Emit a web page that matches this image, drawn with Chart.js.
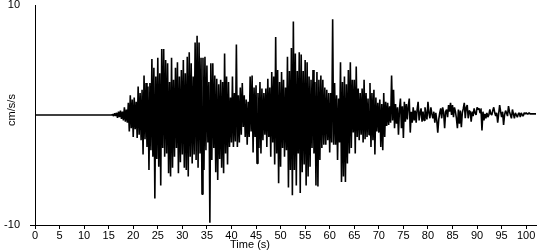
<!DOCTYPE html>
<html lang="en">
<head>
  <meta charset="UTF-8" />
  <title>Accelerogram</title>
  <script src="https://cdn.jsdelivr.net/npm/chart.js@4.4.0/dist/chart.umd.min.js"></script>
  <style>
    body { margin:0; background:#fff; }
    #wrap { width:550px; height:250px; }
  </style>
</head>
<body>
  <div id="wrap"><canvas id="accChart" width="550" height="250"></canvas></div>

  <script>
    /* ── data (cm/s/s), one sample every 0.2 s ── */
    const sampleStep = 0.2;
    const quietStart = 0;          // record is flat from 0 s until the first segment
    const segStarts  = [15, 25, 35, 45, 55, 65, 75, 85, 95];

    const acc15 = [0,0,0,0,0.05, -0.1,0.15,-0.1,0.2,-0.25, 0.3,-0.2,0.4,-0.35,0.3, -0.5,0.7,-0.6,0.5,-0.7,
                   1.1,-1.5,1.8,-1.2,1.4, -2.0,1.6,-1.3,1.2,-2.1, 2.6,-1.8,2.0,-2.3,2.3, -3.6,3.6,-2.2,2.9,-2.9,
                   2.6,-5.0,2.9,-3.2,5.1, -3.8,4.3,-7.6,3.5,-4.0];
    const acc25 = [5.2,-4.7,3.8,-6.4,6.0, -3.0,6.0,-3.8,5.0,-3.5, 4.7,-5.3,3.0,-5.6,5.2, -4.8,3.2,-3.8,4.3,-3.0,
                   4.8,-5.3,3.5,-4.3,4.1, -3.6,5.0,-4.8,3.8,-5.0, 5.3,-5.6,5.7,-3.8,4.7, -4.4,3.5,-3.6,6.6,-4.1,
                   7.2,-4.8,6.6,-3.5,5.2, -7.2,5.2,-5.0,5.3,-3.2];
    const acc35 = [4.5,-2.5,3.0,-9.8,4.7, -4.1,4.7,-3.0,3.6,-5.2, 3.3,-5.9,2.8,-4.0,3.2, -4.8,3.0,-5.3,5.6,-3.5,
                   3.5,-4.5,3.0,-2.9,1.6, -2.5,3.5,-2.9,2.0,-2.4, 6.4,-2.9,1.8,-2.5,2.5, -1.8,2.9,-1.1,1.8,-2.0,
                   1.4,-2.7,1.2,-2.0,3.5, -1.5,3.6,-3.4,2.5,-2.0];
    const acc45 = [2.7,-4.4,2.0,-3.0,3.0, -3.5,2.4,-2.3,2.0,-1.8, 2.4,-2.9,3.3,-2.0,2.5, -3.8,3.9,-2.5,3.5,-4.5,
                   7.1,-3.5,4.1,-6.2,3.0, -4.7,3.9,-3.0,3.2,-3.8, 2.5,-3.2,5.3,-6.6,4.0, -5.0,6.1,-7.3,8.5,-5.0,
                   5.6,-6.4,4.0,-3.5,5.7, -7.1,5.5,-5.2,4.0,-4.5];
    const acc55 = [5.0,-6.4,4.8,-5.6,3.5, -4.7,3.2,-3.0,4.1,-3.5, 3.0,-6.4,3.9,-6.5,3.2, -4.1,3.6,-3.0,3.2,-2.7,
                   2.5,-2.7,2.3,-2.3,2.0, -3.4,2.0,-2.5,8.7,-2.7, 2.9,-2.7,1.8,-4.1,1.5, -2.5,4.8,-6.1,3.0,-5.6,
                   3.5,-6.1,2.8,-4.4,4.1, -3.5,4.8,-3.0,3.2,-1.6];
    const acc65 = [3.2,-3.5,4.4,-2.0,2.4, -2.3,2.0,-1.8,2.4,-2.5, 3.2,-2.2,2.0,-2.0,1.5, -1.8,2.9,-2.9,2.0,-2.3,
                   2.3,-3.6,1.6,-1.5,1.1, -1.6,1.4,-2.9,1.0,-3.2, 2.0,-2.0,1.2,-1.0,1.1, -0.9,0.8,-0.7,3.6,-0.5,
                   2.3,-1.2,1.0,-0.8,0.7, -1.8,0.5,1.5,-1.2,0.8];
    const acc75 = [-2.1,1.2,-0.6,1.0,-0.4, 0.8,1.5,-1.6,0.3,-0.7, 0.7,-0.5,0.4,-0.7,0.5, 1.2,-0.5,0.2,0.6,-0.6,
                   0.3,-0.5,0.7,0.1,-0.4, 1.2,0.2,-0.3,0.7,0.1, -0.3,0.3,-0.7,0.2,-0.5, -1.6,-0.4,0.2,0.6,-0.3,
                   0.7,0.2,-1.2,0.3,0.5, -0.2,0.9,0.3,1.1,0.0];
    const acc85 = [0.9,-0.2,0.7,0.3,-0.3, -1.2,0.5,-0.8,0.4,-1.1, 0.2,0.6,1.1,-0.3,0.7, 0.9,-0.3,0.4,0.3,-0.6,
                   0.3,-0.1,0.6,0.2,0.0, 0.7,0.5,0.6,0.2,0.6, -1.4,0.3,-0.5,0.1,-0.3, 0.2,-0.2,0.0,0.5,0.1,
                   0.0,0.4,0.7,0.2,-0.1, 0.2,-0.7,0.1,0.9,0.3];
    const acc95 = [-0.2,0.3,-0.9,0.0,0.4, 0.2,-0.1,0.8,0.3,0.0, -0.3,0.5,0.1,-0.3,0.2, 0.0,-0.2,0.1,0.2,-0.2,
                   0.2,0.0,-0.1,0.2,0.1, 0.2,0.1,0.1,0.2,0.1, 0.1,0.1,0.1,0.1,0.1, 0.1];

    const segments   = [acc15, acc25, acc35, acc45, acc55, acc65, acc75, acc85, acc95];
    const xTickVals  = [0,5,10,15,20,25,30,35,40,45,50,55,60,65,70,75,80,85,90,95,100];
    const yTickVals  = [-10, 10];
    const xTitle     = 'Time (s)';
    const yTitle     = 'cm/s/s';

    /* build {x,y} points */
    const points = [{x:quietStart, y:0}];
    segments.forEach((seg, i)=>{
      seg.forEach((v, j)=>{
        points.push({x: Math.round((segStarts[i] + j*sampleStep)*10)/10, y: v});
      });
    });

    const font = {family:'"Liberation Sans", Arial, sans-serif', size:11};

    /* axis titles sit off-centre in the original, so draw them by hand */
    const titlesPlugin = {
      id:'titles',
      afterDraw(chart){
        const c = chart.ctx;
        c.save();
        c.fillStyle = '#000';
        c.font = '11px "Liberation Sans", Arial, sans-serif';
        c.textAlign = 'center';
        c.textBaseline = 'middle';
        c.fillText(xTitle, 250, 245);
        c.translate(12, 110);
        c.rotate(-Math.PI/2);
        c.fillText(yTitle, 0, 0);
        c.restore();
      }
    };

    new Chart(document.getElementById('accChart'), {
      type:'line',
      data:{ datasets:[{
        data: points,
        borderColor:'#000',
        borderWidth:1.6,
        borderJoinStyle:'bevel',
        pointRadius:0,
        tension:0,
        fill:false
      }]},
      options:{
        responsive:false,
        animation:false,
        events:[],
        layout:{ padding:{top:5, right:14, left:0, bottom:0} },
        plugins:{ legend:{display:false}, tooltip:{enabled:false} },
        scales:{
          x:{
            type:'linear', min:0, max:102,
            afterBuildTicks: s => { s.ticks = xTickVals.map(v=>({value:v})); },
            afterFit: s => { s.height = 25; s.paddingLeft = 0; s.paddingRight = 0; },
            ticks:{ color:'#000', font, padding:0, maxRotation:0, autoSkip:false },
            grid:{ drawOnChartArea:false, color:'#000', tickLength:4 },
            border:{ color:'#000', width:1 }
          },
          y:{
            min:-10, max:10,
            afterBuildTicks: s => { s.ticks = yTickVals.map(v=>({value:v})); },
            afterFit: s => { s.width = 35; s.paddingTop = 0; s.paddingBottom = 0; },
            ticks:{ color:'#000', font, padding:10 },
            grid:{ drawOnChartArea:false, tickLength:5,
                   color: ctx => (ctx.tick && ctx.tick.value === -10) ? '#000' : 'rgba(0,0,0,0)' },
            border:{ color:'#000', width:1 }
          }
        }
      },
      plugins:[titlesPlugin]
    });
  </script>
</body>
</html>
